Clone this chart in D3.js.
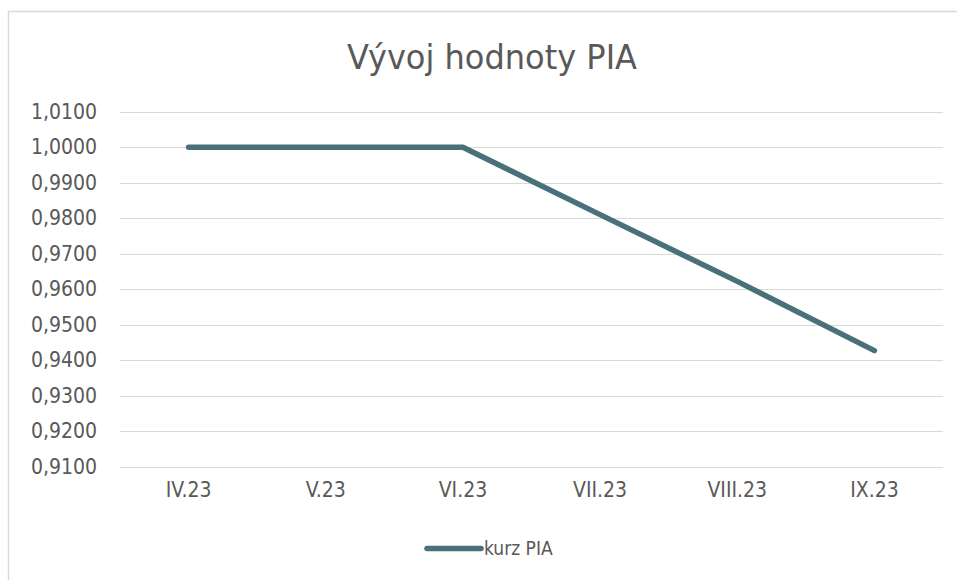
<!DOCTYPE html>
<html>
<head>
<meta charset="utf-8">
<script src="https://cdn.jsdelivr.net/npm/d3@7"></script>
<style>
  html, body { margin: 0; padding: 0; background: #fff; }
  svg { display: block; }
  text { font-family: "Liberation Sans Narrow", "DejaVu Sans Condensed", "Open Sans", sans-serif; fill: #595959; }
</style>
</head>
<body>
<svg id="chart" width="957" height="580"></svg>
<script>
const title = "Vývoj hodnoty PIA";
const seriesName = "kurz PIA";
const categories = ["IV.23", "V.23", "VI.23", "VII.23", "VIII.23", "IX.23"];
const values = [1.0000, 1.0000, 1.0000, 0.9810, 0.9622, 0.9427];
const yTicks = [0.91, 0.92, 0.93, 0.94, 0.95, 0.96, 0.97, 0.98, 0.99, 1.00, 1.01];

const svg = d3.select("#chart");
const W = 957, H = 580;
const margin = { left: 120, right: 14, top: 111.7, bottom: 113.3 };
const fontStack = "\"Liberation Sans Narrow\", \"DejaVu Sans Condensed\", sans-serif";

// outer border
svg.append("rect")
  .attr("x", 8.5).attr("y", 11.5)
  .attr("width", W + 20).attr("height", H + 20)
  .attr("fill", "none").attr("stroke", "#d9d9d9").attr("stroke-width", 1.5);

const x = d3.scaleBand().domain(categories).range([margin.left, W - margin.right]);
const y = d3.scaleLinear().domain([0.91, 1.01]).range([H - margin.bottom, margin.top]);

// gridlines
svg.append("g")
  .selectAll("line").data(yTicks).join("line")
  .attr("x1", margin.left).attr("x2", W - margin.right)
  .attr("y1", d => Math.round(y(d)) + 0.5).attr("y2", d => Math.round(y(d)) + 0.5)
  .attr("stroke", "#d9d9d9").attr("stroke-width", 1);

// y axis labels
const fmt = d => d3.format(".4f")(d).replace(".", ",");
const yAxis = d3.axisLeft(y).tickValues(yTicks).tickFormat(fmt).tickSize(0).tickPadding(0);
const gy = svg.append("g").attr("transform", "translate(97,0)").call(yAxis);
gy.select(".domain").remove();
gy.selectAll("text").attr("font-size", 21).attr("fill", "#595959")
  .style("font-family", fontStack);

// x axis labels
const xAxis = d3.axisBottom(x).tickSize(0).tickPadding(0);
const gx = svg.append("g").attr("transform", `translate(0,${H - margin.bottom + 15})`).call(xAxis);
gx.select(".domain").remove();
gx.selectAll("text").attr("font-size", 21).attr("fill", "#595959").attr("dy", "0.71em")
  .style("font-family", fontStack);

// line
const line = d3.line()
  .x((d, i) => x(categories[i]) + x.bandwidth() / 2)
  .y(d => y(d));
svg.append("path").datum(values)
  .attr("d", line)
  .attr("fill", "none")
  .attr("stroke", "#48717a")
  .attr("stroke-width", 5.5)
  .attr("stroke-linecap", "round")
  .attr("stroke-linejoin", "round");

// title
svg.append("text")
  .attr("x", 492).attr("y", 69)
  .attr("text-anchor", "middle")
  .attr("font-size", 33)
  .attr("textLength", 290)
  .attr("lengthAdjust", "spacingAndGlyphs")
  .text(title);

// legend
const lg = svg.append("g");
lg.append("line")
  .attr("x1", 427).attr("x2", 481).attr("y1", 548.5).attr("y2", 548.5)
  .attr("stroke", "#48717a").attr("stroke-width", 5.5).attr("stroke-linecap", "round");
lg.append("text")
  .attr("x", 484).attr("y", 548.5).attr("dy", "0.35em")
  .attr("font-size", 19)
  .text(seriesName);
</script>
</body>
</html>
